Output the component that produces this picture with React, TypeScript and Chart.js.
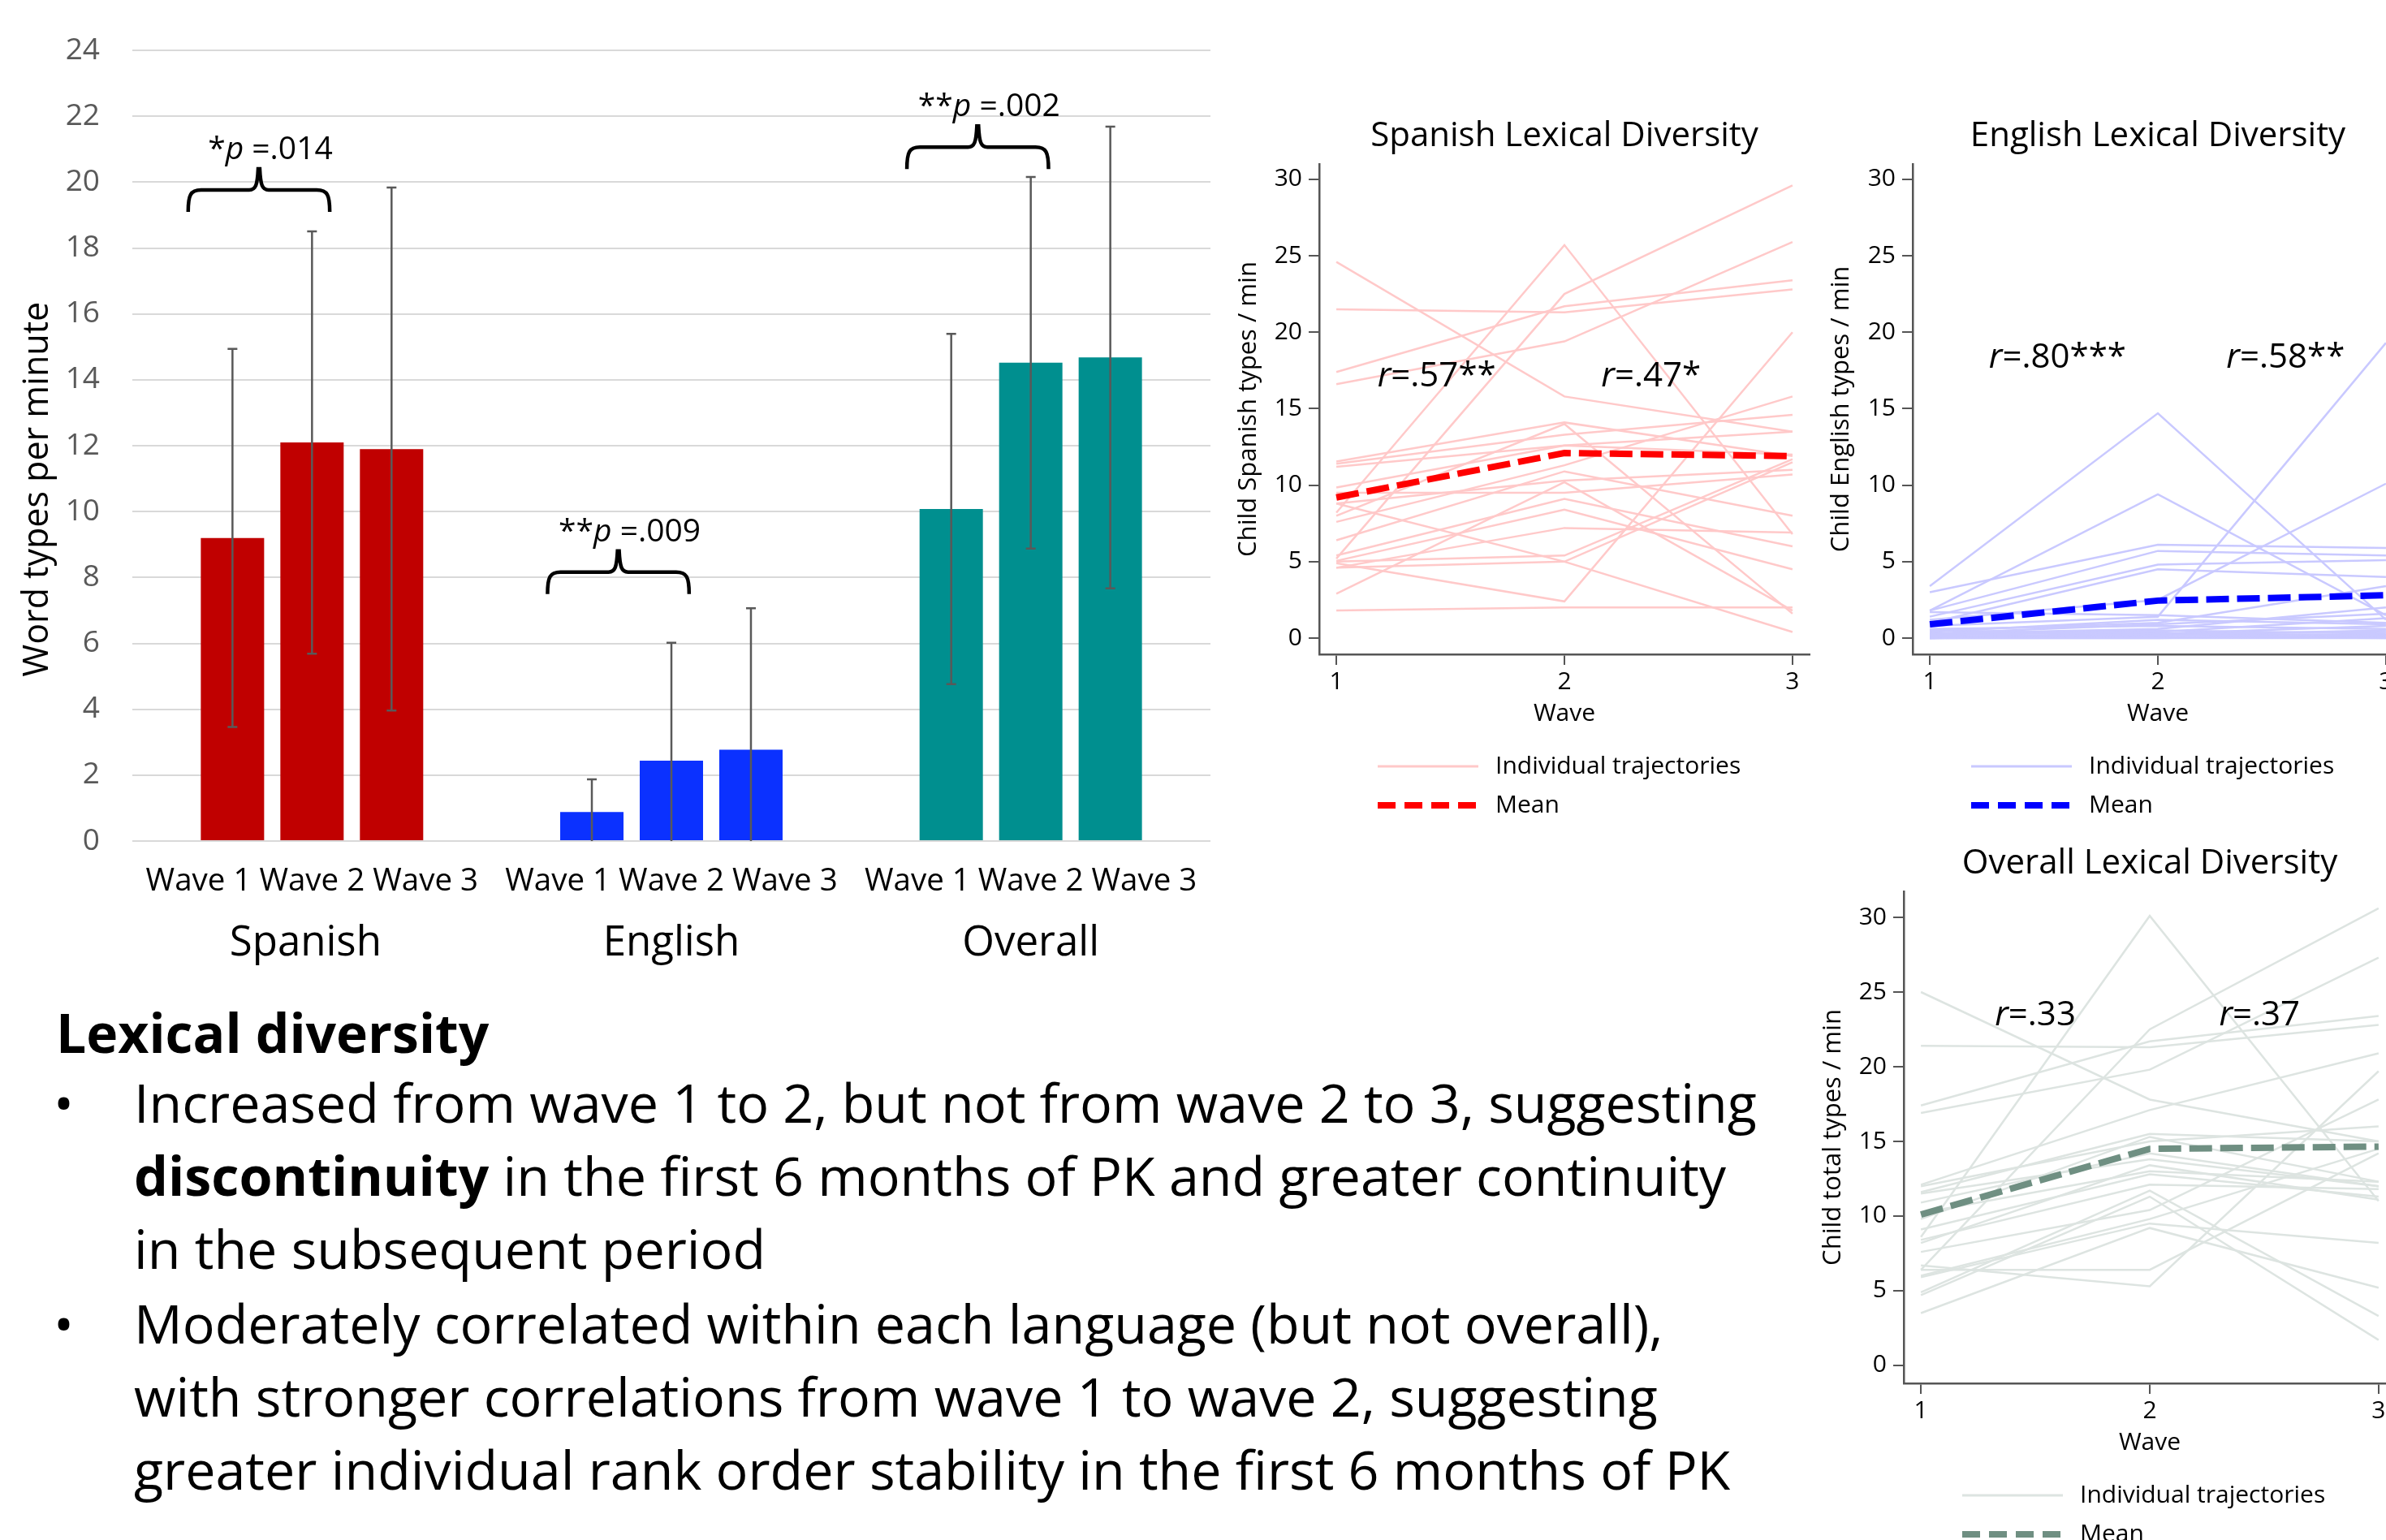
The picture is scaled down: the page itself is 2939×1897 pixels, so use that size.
import React, { useEffect, useRef } from 'react';
import { Chart, registerables } from 'chart.js';

Chart.register(...registerables);

const FONT = "'Open Sans', 'Noto Sans', sans-serif";
Chart.defaults.font.family = FONT;

// ---------- Bar chart data ----------
const groups = ['Spanish', 'English', 'Overall'];
const waveLabels = ['Wave 1', 'Wave 2', 'Wave 3'];
const wave1Means = [9.2, 0.88, 10.08];
const wave2Means = [12.1, 2.44, 14.52];
const wave3Means = [11.9, 2.77, 14.68];
const wave1SD = [5.74, 0.99, 5.32];
const wave2SD = [6.41, 3.58, 5.64];
const wave3SD = [7.94, 4.3, 7.01];
const groupColors = ['#C00000', '#0B31FF', '#008F8F'];
const pStars = ['*', '**', '**'];
const pValues = [' =.014', ' =.009', ' =.002'];
const braceLevels = [19.1, 7.5, 20.4];
const barYTitle = 'Word types per minute';

// ---------- Line panels data ----------
const waves = [1, 2, 3];
const panelYTicks = [0, 5, 10, 15, 20, 25, 30];

const spanishW1 = [24.6, 21.5, 17.4, 16.6, 5.2, 8.2, 1.8, 4.9, 11.55, 11.4, 9.85, 9.5, 8.8, 8.0, 7.6, 6.4, 5.4, 5.05, 4.6, 5.0, 4.6, 8.8, 11.2, 2.9];
const spanishW2 = [15.8, 21.3, 21.7, 19.4, 22.5, 25.7, 2.0, 2.4, 14.1, 13.3, 12.6, 9.5, 10.3, 14.0, 11.3, 10.9, 9.1, 8.4, 7.2, 5.4, 5.0, 5.0, 12.6, 10.2];
const spanishW3 = [13.5, 22.8, 23.4, 25.9, 29.6, 6.8, 2.0, 20.0, 11.9, 14.6, 12.0, 10.7, 11.0, 1.6, 15.8, 8.0, 6.0, 4.5, 6.9, 11.7, 11.5, 0.4, 13.5, 1.8];
const spanishMean = [9.2, 12.1, 11.9];

const englishW1 = [3.4, 1.8, 3.0, 1.8, 1.4, 1.0, 0.8, 1.2, 0.5, 1.7, 0.3, 0.2, 0.1, 0, 0, 0, 0.6, 0.4, 0.2, 0, 0.1, 0.3, 0.5, 0];
const englishW2 = [14.7, 9.4, 6.1, 5.7, 4.8, 4.5, 1.4, 2.5, 1.0, 1.5, 0.6, 0.4, 0.3, 0.2, 0, 0.1, 0.8, 1.2, 0.5, 0, 0.2, 0.9, 0.3, 0.3];
const englishW3 = [1.2, 1.5, 5.9, 5.4, 5.1, 4.0, 19.3, 10.1, 3.4, 1.0, 2.0, 1.3, 0.8, 0.5, 0.2, 0, 0.6, 0.9, 0.3, 0, 0.1, 1.6, 0.4, 0.2];
const englishMean = [0.9, 2.45, 2.8];

const overallW1 = [25.0, 21.4, 17.4, 16.9, 6.4, 8.6, 12.1, 11.6, 11.5, 9.8, 9.1, 6.7, 7.6, 6.4, 5.9, 4.9, 4.7, 3.5, 8.2, 12.0, 10.9, 8.4, 6.0, 10.2];
const overallW2 = [17.8, 21.3, 21.7, 19.8, 22.5, 30.1, 17.1, 15.5, 13.8, 15.3, 12.8, 5.3, 10.4, 6.4, 9.5, 11.7, 11.3, 9.2, 13.4, 15.0, 14.2, 12.1, 9.8, 13.0];
const overallW3 = [15.0, 22.8, 23.4, 27.3, 30.6, 11.0, 20.9, 15.0, 12.0, 12.3, 11.3, 19.7, 17.8, 14.2, 8.2, 3.3, 1.7, 5.2, 11.1, 16.0, 12.0, 11.8, 14.5, 12.3];
const overallMean = [10.1, 14.5, 14.65];

const legendLabels = ['Individual trajectories', 'Mean'];

type Panel = {
  title: string;
  yTitle: string;
  w1: number[];
  w2: number[];
  w3: number[];
  mean: number[];
  indColor: string;
  meanColor: string;
  rLabels: string[];
  rX: number[];
  rY: number;
  yMin: number;
  yMax: number;
};

const spanishPanel: Panel = {
  title: 'Spanish Lexical Diversity',
  yTitle: 'Child Spanish types / min',
  w1: spanishW1, w2: spanishW2, w3: spanishW3, mean: spanishMean,
  indColor: '#FFC9C9', meanColor: '#FF0000',
  rLabels: ['r=.57**', 'r=.47*'], rX: [1.44, 2.38], rY: 17.1,
  yMin: -1.06, yMax: 31.0,
};
const englishPanel: Panel = {
  title: 'English Lexical Diversity',
  yTitle: 'Child English types / min',
  w1: englishW1, w2: englishW2, w3: englishW3, mean: englishMean,
  indColor: '#C9C9FF', meanColor: '#0000FF',
  rLabels: ['r=.80***', 'r=.58**'], rX: [1.56, 2.56], rY: 18.3,
  yMin: -1.06, yMax: 31.0,
};
const overallPanel: Panel = {
  title: 'Overall Lexical Diversity',
  yTitle: 'Child total types / min',
  w1: overallW1, w2: overallW2, w3: overallW3, mean: overallMean,
  indColor: '#DDE4E1', meanColor: '#6F8F82',
  rLabels: ['r=.33', 'r=.37'], rX: [1.5, 2.48], rY: 23.4,
  yMin: -1.2, yMax: 31.74,
};

function drawRich(ctx: CanvasRenderingContext2D, parts: { t: string; italic?: boolean }[], cx: number, cy: number, size: number) {
  const fonts = parts.map((p) => `${p.italic ? 'italic ' : ''}${size}px ${FONT}`);
  let total = 0;
  const widths = parts.map((p, i) => {
    ctx.font = fonts[i];
    const w = ctx.measureText(p.t).width;
    total += w;
    return w;
  });
  let x = cx - total / 2;
  ctx.textAlign = 'left';
  ctx.textBaseline = 'middle';
  parts.forEach((p, i) => {
    ctx.font = fonts[i];
    ctx.fillText(p.t, x, cy);
    x += widths[i];
  });
}

function drawBrace(ctx: CanvasRenderingContext2D, left: number, right: number, base: number, h: number, notch: number) {
  const cx = (left + right) / 2;
  const top = base - h;
  ctx.beginPath();
  ctx.moveTo(left, base);
  ctx.bezierCurveTo(left, top + 6, left + 3, top, left + 16, top);
  ctx.lineTo(cx - 12, top);
  ctx.bezierCurveTo(cx - 4, top, cx - 2, top - 6, cx - 1, top - notch);
  ctx.lineTo(cx + 1, top - notch);
  ctx.bezierCurveTo(cx + 2, top - 6, cx + 4, top, cx + 12, top);
  ctx.lineTo(right - 16, top);
  ctx.bezierCurveTo(right - 3, top, right, top + 6, right, base);
  ctx.stroke();
}

const barExtras = {
  id: 'barExtras',
  afterDatasetsDraw(chart: any) {
    const ctx: CanvasRenderingContext2D = chart.ctx;
    const y = chart.scales.y;
    const sds = [wave1SD, wave2SD, wave3SD];
    ctx.save();
    ctx.strokeStyle = '#595959';
    ctx.lineWidth = 2.5;
    chart.data.datasets.forEach((ds: any, di: number) => {
      const meta = chart.getDatasetMeta(di);
      meta.data.forEach((bar: any, i: number) => {
        const v = ds.data[i];
        const sd = sds[di][i];
        const top = y.getPixelForValue(v + sd);
        const clipped = v - sd < 0;
        const bot = y.getPixelForValue(Math.max(0, v - sd));
        ctx.beginPath();
        ctx.moveTo(bar.x, top);
        ctx.lineTo(bar.x, bot);
        ctx.moveTo(bar.x - 6, top);
        ctx.lineTo(bar.x + 6, top);
        if (!clipped) {
          ctx.moveTo(bar.x - 6, bot);
          ctx.lineTo(bar.x + 6, bot);
        }
        ctx.stroke();
      });
    });
    ctx.restore();
  },
  afterDraw(chart: any) {
    const ctx: CanvasRenderingContext2D = chart.ctx;
    const y = chart.scales.y;
    const x = chart.scales.x;
    const a = chart.chartArea;
    ctx.save();
    ctx.strokeStyle = '#000';
    ctx.fillStyle = '#000';
    ctx.lineWidth = 4.5;
    groups.forEach((g, gi) => {
      const b1 = chart.getDatasetMeta(0).data[gi];
      const b2 = chart.getDatasetMeta(1).data[gi];
      const bw = b1.width;
      const left = b1.x - 0.7 * bw;
      const right = b2.x + 0.28 * bw;
      const base = y.getPixelForValue(braceLevels[gi]);
      drawBrace(ctx, left, right, base, 27, 26);
      drawRich(ctx, [{ t: pStars[gi] }, { t: 'p', italic: true }, { t: pValues[gi] }], (left + right) / 2 + 14, base - 76, 39);
      ctx.font = `51px ${FONT}`;
      ctx.textAlign = 'center';
      ctx.textBaseline = 'middle';
      ctx.fillText(g, x.getPixelForValue(gi) - (gi === 0 ? 8 : 0), a.bottom + 126);
    });
    // y-axis title, positioned like the reference (a bit below the axis centre)
    ctx.save();
    ctx.translate(47, a.top + (a.bottom - a.top) * 0.555);
    ctx.rotate(-Math.PI / 2);
    ctx.font = `43px ${FONT}`;
    ctx.textAlign = 'center';
    ctx.textBaseline = 'middle';
    ctx.fillText(barYTitle, 0, 0);
    ctx.restore();
    ctx.restore();
  },
};

function BarPanel() {
  const ref = useRef<HTMLCanvasElement>(null);
  useEffect(() => {
    const W = 1500, H = 1220;
    const area = { l: 163, t: 57, r: 1491, b: 1036 };
    const means = [wave1Means, wave2Means, wave3Means];
    const chart = new Chart(ref.current!, {
      type: 'bar',
      data: {
        labels: groups,
        datasets: means.map((m, i) => ({
          label: waveLabels[i],
          data: m,
          backgroundColor: groupColors,
          borderWidth: 0,
          categoryPercentage: 0.664,
          barPercentage: 0.796,
        })),
      },
      options: {
        responsive: false,
        animation: false,
        layout: { padding: { left: 0, top: area.t, right: W - area.r, bottom: 0 } },
        plugins: { legend: { display: false }, tooltip: { enabled: false } },
        scales: {
          x: {
            grid: { display: false },
            border: { display: false },
            afterFit: (s: any) => { s.height = H - area.b; },
            ticks: {
              color: '#000',
              font: { size: 38.5 },
              padding: 19,
              maxRotation: 0,
              autoSkip: false,
              callback: () => waveLabels.join(' '),
            },
          },
          y: {
            min: 0,
            max: 24,
            afterFit: (s: any) => { s.width = area.l; },
            grid: { color: '#D9D9D9', lineWidth: 2, drawTicks: false },
            border: { display: false },
            ticks: { stepSize: 2, color: '#595959', font: { size: 37 }, padding: 40 },
          },
        },
      },
      plugins: [barExtras],
    } as any);
    return () => chart.destroy();
  }, []);
  return <canvas ref={ref} width={1500} height={1220} style={{ position: 'absolute', left: 0, top: 0 }} />;
}

function panelPlugin(panel: Panel) {
  return {
    id: 'panelExtras',
    afterDraw(chart: any) {
      const ctx: CanvasRenderingContext2D = chart.ctx;
      const a = chart.chartArea;
      const xs = chart.scales.x;
      const ys = chart.scales.y;
      ctx.save();
      ctx.fillStyle = '#000';
      ctx.textAlign = 'center';
      ctx.textBaseline = 'middle';
      ctx.font = `42px ${FONT}`;
      ctx.fillText(panel.title, (a.left + a.right) / 2, a.top - 34);
      panel.rLabels.forEach((lab, i) => {
        drawRich(ctx, [{ t: lab.slice(0, 1), italic: true }, { t: lab.slice(1) }], xs.getPixelForValue(panel.rX[i]), ys.getPixelForValue(panel.rY), 42);
      });
      const lx = a.left + 72;
      const ly1 = a.bottom + 138;
      const ly2 = ly1 + 48;
      ctx.strokeStyle = panel.indColor;
      ctx.lineWidth = 3;
      ctx.beginPath();
      ctx.moveTo(lx, ly1);
      ctx.lineTo(lx + 124, ly1);
      ctx.stroke();
      ctx.strokeStyle = panel.meanColor;
      ctx.lineWidth = 8;
      ctx.setLineDash([22, 11]);
      ctx.beginPath();
      ctx.moveTo(lx, ly2);
      ctx.lineTo(lx + 124, ly2);
      ctx.stroke();
      ctx.setLineDash([]);
      ctx.font = `30px ${FONT}`;
      ctx.textAlign = 'left';
      ctx.fillText(legendLabels[0], lx + 145, ly1);
      ctx.fillText(legendLabels[1], lx + 145, ly2);
      ctx.restore();
    },
  };
}

type Area = { l: number; t: number; r: number; b: number };

function LinePanel({ panel, left, top, width, height, area }: { panel: Panel; left: number; top: number; width: number; height: number; area: Area }) {
  const ref = useRef<HTMLCanvasElement>(null);
  useEffect(() => {
    const xAxisH = 94;
    const individual = panel.w1.map((_, i) => ({
      data: [panel.w1[i], panel.w2[i], panel.w3[i]].map((v, k) => ({ x: waves[k], y: v })),
      borderColor: panel.indColor,
      borderWidth: 2.5,
      pointRadius: 0,
      tension: 0,
      order: 2,
    }));
    const meanDs = {
      data: panel.mean.map((v, k) => ({ x: waves[k], y: v })),
      borderColor: panel.meanColor,
      borderWidth: 8,
      borderDash: [28, 10],
      pointRadius: 0,
      tension: 0,
      order: 1,
    };
    const tickStyle = { drawOnChartArea: false, drawTicks: true, tickLength: 13, color: '#555', lineWidth: 2 };
    const chart = new Chart(ref.current!, {
      type: 'line',
      data: { datasets: [meanDs, ...individual] },
      options: {
        responsive: false,
        animation: false,
        layout: {
          padding: { left: 0, top: area.t - top, right: left + width - area.r, bottom: top + height - area.b - xAxisH },
        },
        plugins: { legend: { display: false }, tooltip: { enabled: false } },
        scales: {
          x: {
            type: 'linear',
            min: 0.925,
            max: 3.075,
            afterBuildTicks: (s: any) => { s.ticks = waves.map((v) => ({ value: v })); },
            afterFit: (s: any) => { s.height = xAxisH; },
            grid: tickStyle,
            border: { display: true, color: '#555', width: 2.5 },
            ticks: { color: '#000', font: { size: 30 }, padding: 3, maxRotation: 0, autoSkip: false },
            title: { display: true, text: 'Wave', color: '#000', font: { size: 30 }, padding: { top: 0, bottom: 3 } },
          },
          y: {
            type: 'linear',
            min: panel.yMin,
            max: panel.yMax,
            afterBuildTicks: (s: any) => { s.ticks = panelYTicks.map((v) => ({ value: v })); },
            afterFit: (s: any) => { s.width = area.l - left; },
            grid: tickStyle,
            border: { display: true, color: '#555', width: 2.5 },
            ticks: { color: '#000', font: { size: 30 }, padding: 8 },
            title: { display: true, text: panel.yTitle, color: '#000', font: { size: 31 }, padding: { top: 40, bottom: 0 } },
          },
        },
      },
      plugins: [panelPlugin(panel)],
    } as any);
    return () => chart.destroy();
  }, []);
  return <canvas ref={ref} width={width} height={height} style={{ position: 'absolute', left, top }} />;
}

function TextBlock() {
  const line: React.CSSProperties = { position: 'absolute', left: 165, whiteSpace: 'nowrap' };
  const bullet: React.CSSProperties = { position: 'absolute', left: 66, whiteSpace: 'nowrap' };
  return (
    <div style={{ position: 'absolute', left: 0, top: 0, fontFamily: FONT, color: '#000' }}>
      <div style={{ position: 'absolute', left: 69, top: 1226, fontSize: 66, fontWeight: 700, lineHeight: '90px', whiteSpace: 'nowrap' }}>
        Lexical diversity
      </div>
      <div style={{ position: 'absolute', left: 0, top: 1312, fontSize: 66.4, lineHeight: '90px' }}>
        <div style={{ ...bullet, top: 0 }}>•</div>
        <div style={{ ...line, top: 0 }}>Increased from wave 1 to 2, but not from wave 2 to 3, suggesting</div>
        <div style={{ ...line, top: 90 }}><b>discontinuity</b> in the first 6 months of PK and greater continuity</div>
        <div style={{ ...line, top: 180 }}>in the subsequent period</div>
        <div style={{ ...bullet, top: 272 }}>•</div>
        <div style={{ ...line, top: 272 }}>Moderately correlated within each language (but not overall),</div>
        <div style={{ ...line, top: 362 }}>with stronger correlations from wave 1 to wave 2, suggesting</div>
        <div style={{ ...line, top: 452 }}>greater individual rank order stability in the first 6 months of PK</div>
      </div>
    </div>
  );
}

export default function App() {
  return (
    <div style={{ position: 'absolute', left: 0, top: 0, width: 2939, height: 1897, overflow: 'hidden', background: '#fff' }}>
      <BarPanel />
      <LinePanel panel={spanishPanel} left={1480} top={110} width={780} height={930} area={{ l: 1625, t: 202, r: 2229, b: 806 }} />
      <LinePanel panel={englishPanel} left={2210} top={110} width={780} height={930} area={{ l: 2356, t: 202, r: 2960, b: 806 }} />
      <LinePanel panel={overallPanel} left={2200} top={1000} width={790} height={930} area={{ l: 2345, t: 1098, r: 2951, b: 1704 }} />
      <TextBlock />
    </div>
  );
}
